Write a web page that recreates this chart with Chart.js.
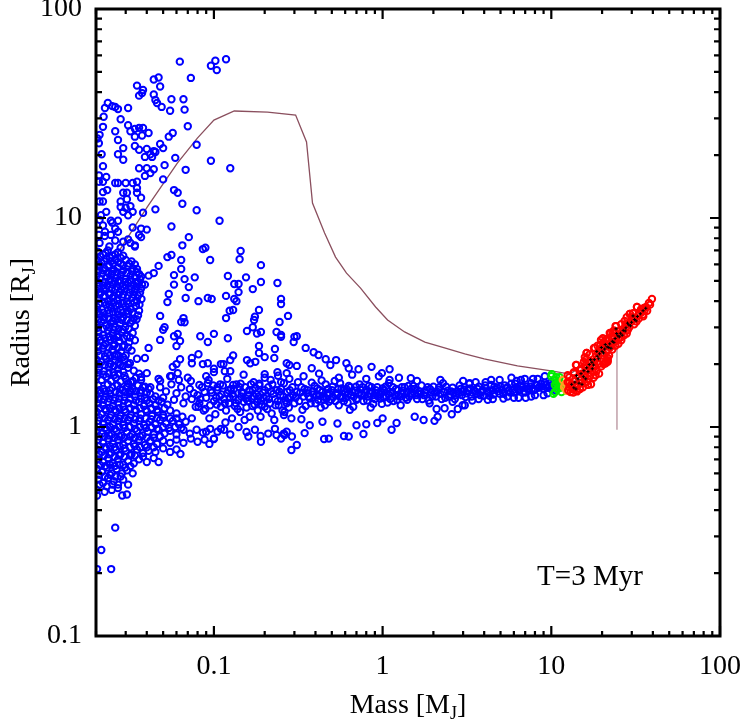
<!DOCTYPE html>
<html lang="en">
<head>
<meta charset="UTF-8">
<title>Radius vs Mass, T=3 Myr</title>
<script src="https://cdn.jsdelivr.net/npm/chart.js"></script>
<style>
  html, body { margin: 0; padding: 0; background: #fff; }
  canvas { display: block; }
</style>
</head>
<body>
<canvas id="mrChart" width="747" height="726"></canvas>
<script>
// axis ticks (log-log)
const xTicks = [0.02,0.03,0.04,0.05,0.06,0.07,0.08,0.09,
  0.1,0.2,0.3,0.4,0.5,0.6,0.7,0.8,0.9,
  1,2,3,4,5,6,7,8,9,
  10,20,30,40,50,60,70,80,90,100];
const xLabels = [0.1, 1, 10, 100];
const yTicks = [0.1,0.2,0.3,0.4,0.5,0.6,0.7,0.8,0.9,
  1,2,3,4,5,6,7,8,9,
  10,20,30,40,50,60,70,80,90,100];
const yLabels = [0.1, 1, 10, 100];

// [mass (MJ), radius (RJ)]
const blueUpper = [[0.0628,56],[0.096,53.5],[0.102,56.5],[0.104,51],[0.118,57.5],[0.073,46.8],[0.035,43],[0.038,41],[0.036,38.5],[0.0375,39.6],
  [0.044,46],[0.047,47],[0.048,42.6],[0.044,39],[0.045,36.7],[0.046,35.5],[0.049,34],[0.056,37],[0.066,37],[0.055,32.6],
  [0.067,33],[0.07,27.5],[0.079,22.4],[0.057,25.5],[0.054,24.5],[0.05,21.6],[0.048,22.6],[0.096,18.8],[0.125,17.3],[0.059,19.4],
  [0.068,17],[0.05,15.3],[0.051,17.9],[0.044,20.9],[0.042,20.2],[0.04,21.4],[0.0375,24.8],[0.041,25.5],[0.038,27],[0.036,27],
  [0.034,26.7],[0.031,27.8],[0.032,26],[0.034,24.5],[0.034,22.1],[0.036,21.2],[0.039,19.6],[0.036,17.3],[0.04,17.3],[0.042,16.4],
  [0.044,17.1],[0.039,15.9],[0.043,19.6],[0.045,20.7],[0.029,19],[0.027,20.2],[0.029,21.6],[0.027,23.6],[0.026,26],[0.028,29.7],
  [0.027,33.2],[0.031,33.6],[0.026,34],[0.025,34.3],[0.0235,35.5],[0.0226,33.6],[0.0222,30.5],[0.022,27.3],[0.021,25],[0.0204,24],
  [0.0208,22.8],[0.0216,20.2],[0.022,17.7],[0.0208,16],[0.0208,14.9],[0.022,14.9],[0.023,15.7],[0.022,13.3],[0.021,12],[0.022,12],
  [0.0233,13.6],[0.026,14.7],[0.027,14.7],[0.03,14.7],[0.033,14.7],[0.035,14.9],[0.035,13.9],[0.037,12.5],[0.035,13.2],[0.0305,13.2],
  [0.029,13.2],[0.0305,12.3],[0.028,12],[0.028,11.3],[0.03,11.2],[0.032,11.4],[0.033,10.7],[0.029,10.7],[0.031,10.3],[0.038,10.6],
  [0.045,11],[0.058,13.6],[0.061,13.2],[0.065,11.7],[0.079,10.9],[0.108,9.7],[0.056,9.1],[0.021,9.8],[0.0214,10.3],[0.023,10.7],
  [0.0245,9.7],[0.027,9.7],[0.0226,8.6],[0.0208,8.3],[0.026,8.9],[0.037,8.9],[0.04,8.8],[0.037,8.1],[0.0245,8.3],[0.029,7.7],
  [0.032,7.6],[0.034,7.3],[0.071,8.1],[0.065,7.4],[0.089,7.2],[0.021,7.6],[0.0225,8.2],[0.024,7.3],[0.026,7.8],[0.028,7.2],
  [0.031,7.9],[0.034,7.4],[0.036,8.3],[0.022,9.2],[0.025,9.5],[0.027,8.6],[0.033,9.0]];

const blueMid = [[0.086,7.1],[0.095,6.3],[0.144,6.95],[0.142,6.35],[0.19,5.95],[0.064,6.3],[0.056,6.65],[0.053,6.5],[0.047,5.9],[0.044,5.45],
  [0.041,5.3],[0.039,4.8],[0.058,5.33],[0.064,5.7],[0.067,5.1],[0.077,5.2],[0.058,4.8],[0.071,4.67],[0.054,4.33],[0.068,4.14],
  [0.053,3.96],[0.081,4.0],[0.092,4.14],[0.097,4.1],[0.121,5.28],[0.132,4.83],[0.14,4.83],[0.14,4.42],[0.132,4.1],[0.136,4.0],
  [0.155,5.2],[0.17,4.57],[0.19,4.94],[0.238,4.89],[0.118,4.24],[0.13,3.63],[0.124,3.6],[0.118,3.32],[0.185,3.63],[0.175,3.37],
  [0.173,3.25],[0.25,4.1],[0.25,3.88],[0.275,3.4],[0.245,3.18],[0.17,3.0],[0.157,2.88],[0.18,2.8],[0.19,2.85],[0.235,2.85],
  [0.25,2.76],[0.23,2.36],[0.185,2.44],[0.185,2.26],[0.2,2.16],[0.27,2.02],[0.228,2.14],[0.238,1.83],[0.2,1.79],[0.27,1.81],
  [0.121,2.66],[0.1,2.79],[0.092,2.55],[0.083,2.72],[0.066,3.32],[0.064,3.18],[0.067,3.17],[0.058,2.72],[0.061,2.79],[0.063,2.58],
  [0.06,2.44],[0.048,2.61],[0.051,3.0],[0.05,2.92],[0.048,3.4],[0.041,2.39],[0.039,2.14],[0.081,2.23],[0.074,2.14],[0.074,2.02],
  [0.086,2.0],[0.092,2.02],[0.1,1.9],[0.1,1.83],[0.11,2.0],[0.114,2.0],[0.125,2.09],[0.13,2.2],[0.125,1.85],[0.116,1.85],
  [0.157,2.09],[0.164,2.02],[0.176,2.05],[0.063,2.11],[0.06,2.0],[0.057,1.94],[0.061,1.81],[0.056,1.75],[0.04,1.81],[0.037,1.73],
  [0.048,1.66],[0.042,1.55],[0.039,1.56],[0.033,1.66],[0.031,1.62],[0.0305,1.55],[0.032,1.47],[0.073,1.66],[0.082,1.59],[0.093,1.68],
  [0.105,1.55],[0.13,1.59],[0.144,1.61],[0.172,1.64],[0.186,1.61],[0.217,1.68],[0.25,1.64],
  [0.25,2.7],[0.3,2.7],[0.31,2.72],[0.297,2.55],[0.35,2.39],[0.39,2.28],[0.417,2.21],[0.46,2.11],[0.53,2.09],[0.61,2.02],
  [0.72,1.89],[0.86,1.94],[1.1,1.89],[1.47,1.71],[0.28,1.98],[0.31,1.96],[0.38,1.91],[0.49,1.98],[0.63,1.91],[0.99,1.81]];

const blueStrip = [[0.0205,6.9],[0.022,6.7],[0.0235,7.0],[0.025,6.6],[0.027,6.85],[0.029,6.6],
  [0.0203,6.3],[0.0215,6.1],[0.023,6.4],[0.0245,6.2],[0.026,6.35],[0.028,6.05],[0.030,6.3],[0.0325,6.2],
  [0.021,5.85],[0.0225,5.7],[0.024,5.9],[0.0255,5.65],[0.027,5.8],[0.029,5.6],[0.031,5.9],[0.033,5.75],[0.035,5.7],
  [0.0202,5.3],[0.0218,5.45],[0.0232,5.2],[0.0248,5.4],[0.0262,5.15],[0.028,5.35],[0.030,5.1],[0.032,5.3],[0.034,5.2],[0.036,5.4],
  [0.0208,4.9],[0.022,4.75],[0.0238,5.0],[0.0252,4.8],[0.027,4.95],[0.0288,4.7],[0.031,4.9],[0.0335,4.75],[0.0355,4.95],[0.0375,4.8],
  [0.0201,4.5],[0.0214,4.4],[0.0228,4.6],[0.0243,4.35],[0.026,4.55],[0.0275,4.4],[0.0295,4.6],[0.0318,4.4],[0.034,4.55],[0.0365,4.4],
  [0.0206,4.1],[0.0222,4.2],[0.0236,4.0],[0.025,4.15],[0.0268,4.05],[0.0285,4.2],[0.0305,3.98],[0.0328,4.15],[0.035,4.0],[0.0372,4.1],
  [0.0203,3.75],[0.0217,3.65],[0.023,3.85],[0.0246,3.7],[0.0262,3.8],[0.028,3.62],[0.030,3.78],[0.032,3.66],[0.0345,3.8],[0.036,3.6],
  [0.021,3.45],[0.0224,3.35],[0.024,3.5],[0.0256,3.3],[0.0272,3.45],[0.029,3.35],[0.031,3.5],[0.0335,3.3],[0.0355,3.42],
  [0.0202,3.1],[0.0215,3.2],[0.023,3.05],[0.0245,3.15],[0.026,3.0],[0.0278,3.12],[0.0298,3.0],[0.032,3.15],[0.034,3.05],
  [0.0207,2.85],[0.022,2.75],[0.0235,2.9],[0.025,2.8],[0.0266,2.7],[0.0285,2.85],[0.0305,2.72],[0.033,2.82],
  [0.0201,2.55],[0.0213,2.6],[0.0228,2.5],[0.0242,2.62],[0.0258,2.48],[0.0275,2.58],[0.0295,2.45],[0.0315,2.55],[0.034,2.6],
  [0.0205,2.3],[0.022,2.38],[0.0234,2.25],[0.025,2.35],[0.0265,2.22],[0.0282,2.3],[0.030,2.2],[0.0325,2.32],
  [0.0202,2.1],[0.0216,2.05],[0.023,2.12],[0.0244,2.0],[0.026,2.08],[0.0278,1.98],[0.0296,2.1],[0.0318,2.02],[0.035,2.12],
  [0.0208,1.9],[0.0222,1.85],[0.0238,1.95],[0.0254,1.82],[0.027,1.9],[0.029,1.84],[0.031,1.92],[0.0335,1.86],[0.036,1.8],
  [0.0203,1.75],[0.0216,1.68],[0.023,1.74],[0.0246,1.66],[0.0262,1.72],[0.028,1.65],[0.030,1.7],[0.0322,1.64],[0.0345,1.72],[0.037,1.68],
  [0.0206,1.58],[0.022,1.52],[0.0235,1.6],[0.025,1.54],[0.0268,1.58],[0.0287,1.5],[0.0308,1.56],[0.033,1.52],[0.0355,1.58],[0.038,1.55],[0.041,1.52],
  [0.0201,1.42],[0.0214,1.46],[0.0228,1.4],[0.0243,1.44],[0.026,1.38],[0.0276,1.45],[0.0295,1.39],[0.0316,1.44],[0.034,1.4],[0.0365,1.46],[0.039,1.38],[0.042,1.44],[0.045,1.4],
  [0.0205,1.3],[0.022,1.27],[0.0235,1.32],[0.0252,1.26],[0.027,1.31],[0.029,1.25],[0.031,1.3],[0.0335,1.27],[0.036,1.32],[0.0385,1.26],[0.0415,1.3],[0.045,1.27],[0.049,1.32],[0.053,1.28],
  [0.0202,1.18],[0.0216,1.15],[0.023,1.2],[0.0246,1.14],[0.0263,1.19],[0.028,1.13],[0.030,1.18],[0.0322,1.14],[0.0345,1.2],[0.037,1.15],[0.040,1.19],[0.043,1.13],[0.0465,1.18],[0.050,1.14],[0.055,1.2],[0.06,1.16],
  [0.0207,1.07],[0.022,1.04],[0.0236,1.08],[0.0252,1.03],[0.027,1.07],[0.029,1.02],[0.031,1.08],[0.0335,1.04],[0.036,1.07],[0.0385,1.02],[0.0415,1.06],[0.045,1.03],[0.048,1.08],[0.052,1.04],[0.057,1.07],[0.062,1.03],[0.068,1.06],[0.074,1.1],
  [0.0203,0.96],[0.0217,0.93],[0.0232,0.97],[0.0248,0.92],[0.0265,0.96],[0.0284,0.91],[0.0305,0.95],[0.0328,0.92],[0.035,0.96],[0.0378,0.91],[0.0405,0.95],[0.044,0.92],[0.047,0.97],[0.051,0.93],[0.055,0.96],[0.06,0.92],[0.066,0.97],
  [0.072,0.93],[0.079,0.97],[0.086,0.94],[0.095,0.98],[0.105,0.95],[0.115,0.97],
  [0.0206,0.87],[0.022,0.84],[0.0236,0.88],[0.0252,0.83],[0.027,0.87],[0.029,0.82],[0.031,0.86],[0.0335,0.83],[0.036,0.87],[0.039,0.82],[0.042,0.86],[0.046,0.83],[0.05,0.86],[0.055,0.84],
  [0.06,0.87],[0.066,0.84],[0.073,0.88],[0.08,0.85],[0.088,0.87],
  [0.0202,0.78],[0.0216,0.76],[0.023,0.79],[0.0246,0.75],[0.0263,0.78],[0.028,0.74],[0.030,0.77],[0.0325,0.74],[0.035,0.78],[0.038,0.75],[0.041,0.77],[0.045,0.76],
  [0.05,0.79],[0.055,0.76],[0.06,0.78],
  [0.0207,0.7],[0.022,0.68],[0.0236,0.71],[0.0252,0.67],[0.027,0.7],[0.029,0.66],[0.031,0.69],[0.0335,0.67],[0.036,0.7],[0.04,0.68],[0.044,0.71],[0.047,0.68],
  [0.0203,0.63],[0.0217,0.61],[0.0232,0.64],[0.0248,0.6],[0.0265,0.63],[0.0285,0.6],[0.0305,0.62],[0.033,0.6],
  [0.0206,0.56],[0.022,0.54],[0.0236,0.57],[0.0255,0.55],[0.027,0.53],[0.029,0.56],[0.031,0.53],
  [0.0202,0.5],[0.0225,0.49],[0.0248,0.5],[0.027,0.51],
  [0.0286,0.47],[0.0305,0.475],[0.0203,0.47],[0.026,0.33],[0.0215,0.258],[0.0203,0.209],[0.0246,0.209],
  [0.048,1.55],[0.052,1.48],[0.056,1.6],[0.06,1.45],[0.064,1.55],[0.068,1.4],[0.072,1.52],[0.076,1.45],[0.05,1.38],[0.058,1.35],
  [0.066,1.3],[0.074,1.36],[0.078,1.25],[0.047,1.7],[0.055,1.75],[0.062,1.68],[0.07,1.72]];

// second, offset pass through the saturated low-mass cloud
const blueStrip2 = [[0.0212,6.55],[0.0228,6.8],[0.0242,6.45],[0.026,6.7],[0.028,6.45],
  [0.0209,6.0],[0.0224,6.2],[0.0238,5.95],[0.0252,6.05],[0.027,6.15],[0.029,5.95],[0.0315,6.05],[0.034,6.0],
  [0.0206,5.55],[0.0221,5.6],[0.0236,5.45],[0.025,5.55],[0.0266,5.5],[0.0285,5.5],[0.0305,5.45],[0.0328,5.55],[0.035,5.5],[0.037,5.25],
  [0.0211,5.1],[0.0226,4.95],[0.0244,5.1],[0.0258,4.98],[0.0275,5.05],[0.0298,4.95],[0.032,5.05],[0.0345,4.95],[0.0365,5.1],
  [0.0205,4.7],[0.0222,4.6],[0.0234,4.75],[0.0248,4.6],[0.0265,4.7],[0.0282,4.55],[0.030,4.75],[0.0325,4.6],[0.0348,4.7],[0.037,4.6],
  [0.021,4.3],[0.0225,4.25],[0.024,4.3],[0.0256,4.25],[0.0272,4.3],[0.029,4.3],[0.031,4.25],[0.0335,4.3],[0.0355,4.25],
  [0.0208,3.9],[0.0226,3.95],[0.024,3.85],[0.0256,3.95],[0.0272,3.88],[0.029,3.9],[0.031,3.88],[0.0338,3.95],[0.0362,3.85],
  [0.0206,3.58],[0.0222,3.52],[0.0236,3.62],[0.0252,3.55],[0.0268,3.58],[0.0288,3.52],[0.0308,3.6],[0.0328,3.52],
  [0.0208,3.28],[0.0222,3.25],[0.0238,3.3],[0.0252,3.22],[0.0268,3.28],[0.0285,3.25],[0.0305,3.25],[0.0328,3.22],[0.0348,3.28],
  [0.0205,2.98],[0.0222,2.95],[0.024,3.0],[0.0255,2.92],[0.0272,2.95],[0.029,2.92],[0.0312,2.95],
  [0.0209,2.7],[0.0226,2.65],[0.024,2.7],[0.0256,2.65],[0.0272,2.7],[0.0292,2.65],[0.0318,2.68],
  [0.0207,2.42],[0.0222,2.45],[0.0238,2.4],[0.0254,2.44],[0.027,2.4],[0.0288,2.42],[0.031,2.4],
  [0.021,2.2],[0.0226,2.18],[0.0242,2.2],[0.0258,2.18],[0.0272,2.2],[0.029,2.16],
  [0.0208,2.0],[0.0226,1.98],[0.024,2.02],[0.0256,1.96],[0.0272,2.02],[0.0288,1.96],[0.031,2.0],
  [0.0206,1.82],[0.0222,1.78],[0.0238,1.8],[0.0256,1.77],[0.0272,1.8],[0.0295,1.76],
  [0.021,1.5],[0.0226,1.48],[0.0242,1.5],[0.026,1.47],[0.0278,1.52],[0.0298,1.47],[0.032,1.5],[0.0345,1.48],[0.037,1.5],[0.040,1.46],
  [0.0208,1.36],[0.0223,1.35],[0.024,1.37],[0.0256,1.34],[0.0275,1.37],[0.0295,1.34],[0.0318,1.37],[0.0345,1.34],[0.037,1.37],[0.040,1.34],[0.0435,1.36],[0.047,1.34],
  [0.021,1.23],[0.0226,1.22],[0.0242,1.23],[0.0258,1.21],[0.0275,1.23],[0.0295,1.21],[0.0318,1.23],[0.034,1.21],[0.0365,1.23],[0.0395,1.21],[0.0425,1.23],[0.046,1.21],[0.051,1.23],
  [0.0209,1.11],[0.0225,1.1],[0.0242,1.11],[0.0258,1.09],[0.0275,1.1],[0.0295,1.1],[0.0318,1.11],[0.034,1.09],[0.0365,1.1],[0.0395,1.1],[0.0425,1.09],[0.046,1.1],[0.05,1.11],[0.055,1.1],[0.06,1.1],[0.065,1.12],
  [0.021,1.0],[0.0226,0.99],[0.0242,1.0],[0.0258,0.98],[0.0275,1.0],[0.0295,0.99],[0.0318,1.0],[0.034,0.98],[0.0365,1.0],[0.0395,0.99],[0.0425,1.0],[0.046,0.98],[0.05,1.0],[0.054,0.99],[0.059,1.0],[0.064,0.99],
  [0.0209,0.9],[0.0225,0.9],[0.024,0.91],[0.0258,0.89],[0.0276,0.9],[0.0295,0.89],[0.0318,0.9],[0.034,0.89],[0.0365,0.9],[0.040,0.89],[0.044,0.89],[0.048,0.9],
  [0.021,0.81],[0.0226,0.8],[0.0242,0.81],[0.0258,0.8],[0.0276,0.81],[0.0295,0.79],[0.0318,0.8],[0.034,0.81],[0.0365,0.8],[0.040,0.8],[0.044,0.8],
  [0.0209,0.74],[0.0224,0.73],[0.024,0.74],[0.0258,0.72],[0.0275,0.73],[0.0295,0.72],[0.0318,0.73],[0.034,0.73],[0.038,0.72],
  [0.021,0.66],[0.0226,0.65],[0.0242,0.66],[0.0258,0.65],[0.0276,0.66],[0.0298,0.64],[0.032,0.65],
  [0.0209,0.59],[0.0226,0.58],[0.0242,0.59],[0.026,0.58],[0.028,0.58],
  [0.021,0.53],[0.0232,0.52],[0.025,0.53]];

const blueBand = [[0.08,1.42],[0.082,1.3],[0.085,1.55],[0.087,1.2],[0.09,1.38],[0.092,1.62],[0.095,1.27],[0.097,1.46],[0.1,1.33],[0.102,1.15],
  [0.105,1.5],[0.108,1.4],[0.11,1.25],[0.113,1.58],[0.115,1.36],[0.118,1.2],[0.12,1.45],[0.123,1.3],[0.126,1.52],[0.128,1.1],
  [0.13,1.4],[0.133,1.26],[0.136,1.6],[0.14,1.35],[0.143,1.18],[0.146,1.47],[0.15,1.32],[0.153,1.55],[0.156,1.24],[0.16,1.42],
  [0.163,1.12],[0.167,1.37],[0.17,1.5],[0.174,1.28],[0.178,1.44],[0.182,1.2],[0.186,1.58],[0.19,1.34],[0.195,1.46],[0.2,1.25],
  [0.205,1.4],[0.21,1.55],[0.215,1.3],[0.22,1.16],[0.225,1.44],[0.23,1.36],[0.236,1.5],[0.242,1.27],[0.248,1.42],[0.255,1.2],
  [0.26,1.62],[0.266,1.34],[0.272,1.47],[0.278,1.24],[0.285,1.39],[0.292,1.55],[0.3,1.3],
  [0.081,1.25],[0.088,1.47],[0.094,1.1],[0.099,1.58],[0.104,1.28],[0.111,1.43],[0.117,1.05],[0.124,1.38],[0.131,1.52],[0.138,1.22],
  [0.145,1.4],[0.152,1.08],[0.159,1.33],[0.166,1.6],[0.173,1.4],[0.181,1.32],[0.189,1.12],[0.197,1.38],[0.207,1.22],[0.218,1.48],
  [0.228,1.08],[0.239,1.33],[0.25,1.52],[0.262,1.18],[0.275,1.37],[0.288,1.1],
  [0.083,1.36],[0.089,1.22],[0.096,1.5],[0.103,1.38],[0.109,1.6],[0.116,1.3],[0.122,1.5],[0.129,1.44],[0.135,1.3],[0.142,1.55],
  [0.149,1.45],[0.155,1.37],[0.162,1.5],[0.169,1.26],[0.176,1.54],[0.184,1.4],[0.192,1.28],[0.2,1.5],[0.212,1.36],[0.222,1.6],
  [0.232,1.27],[0.244,1.48],[0.258,1.4],[0.27,1.3],[0.282,1.5],[0.295,1.42],
  [0.09,1.75],[0.12,1.7],[0.15,1.78],[0.2,1.72],[0.24,1.76],[0.28,1.7],
  [0.09,0.95],[0.1,0.88],[0.11,0.98],[0.125,0.92],[0.14,1.0],[0.16,0.9],[0.175,0.97],[0.19,0.85],[0.21,0.93],[0.23,0.98],
  [0.25,0.88],[0.27,0.95],[0.29,0.9],[0.0633,0.743],[0.094,0.83],[0.1,0.876],[0.288,0.776],[0.156,0.946],[0.189,0.905],[0.235,0.916],
  [0.262,0.916],[0.31,0.82],[0.26,0.93],[0.345,0.935],[0.45,0.876],[0.48,0.88],[0.59,0.905],[0.63,0.9],[0.77,0.926],[1.13,0.97],
  [1.21,1.045],[1.55,1.12],[1.75,1.08],[2.03,1.07],[2.09,1.22],[2.57,1.15],[2.79,1.22],[2.98,1.27],[0.93,1.045],[1.0,1.1],
  [0.8,1.03],[0.7,1.02],[0.54,1.04],[0.44,1.06],[0.37,1.02],[0.26,1.14],[0.33,1.09],
  [0.31,1.47],[0.32,1.33],[0.33,1.55],[0.34,1.4],[0.35,1.26],[0.36,1.5],[0.37,1.37],[0.38,1.63],[0.39,1.43],[0.4,1.3],
  [0.41,1.53],[0.42,1.41],[0.43,1.24],[0.44,1.47],[0.45,1.35],[0.46,1.6],[0.47,1.45],[0.48,1.32],[0.5,1.5],[0.51,1.39],
  [0.52,1.66],[0.54,1.43],[0.55,1.27],[0.57,1.53],[0.58,1.38],[0.6,1.46],[0.62,1.31],[0.63,1.57],[0.65,1.42],[0.67,1.25],
  [0.69,1.49],[0.71,1.37],[0.73,1.6],[0.75,1.44],[0.77,1.33],[0.8,1.51],[0.82,1.4],[0.85,1.24],[0.87,1.48],[0.9,1.36],
  [0.93,1.55],[0.96,1.43],[0.99,1.29],[1.02,1.5],[1.05,1.39],[1.09,1.62],[1.12,1.45],[1.16,1.33],[1.2,1.52],[1.24,1.41],
  [1.28,1.27],[1.32,1.49],[1.37,1.38],[1.42,1.57],[1.47,1.45],
  [0.315,1.64],[0.335,1.21],[0.355,1.45],[0.375,1.3],[0.395,1.57],[0.415,1.35],[0.435,1.67],[0.455,1.27],[0.475,1.52],[0.495,1.35],
  [0.53,1.45],[0.56,1.62],[0.59,1.33],[0.61,1.52],[0.64,1.21],[0.66,1.47],[0.7,1.35],[0.74,1.51],[0.78,1.41],[0.83,1.57],
  [0.88,1.29],[0.92,1.45],[0.97,1.37],[1.0,1.53],[1.07,1.31],[1.14,1.47],[1.22,1.35],[1.3,1.55],[1.4,1.35],
  [0.305,1.38],[0.325,1.46],[0.345,1.52],[0.365,1.4],[0.385,1.48],[0.405,1.42],[0.425,1.5],[0.445,1.4],[0.465,1.37],[0.485,1.44],
  [0.505,1.56],[0.525,1.33],[0.545,1.52],[0.565,1.4],[0.585,1.5],[0.605,1.38],[0.625,1.44],[0.645,1.55],[0.675,1.4],[0.695,1.56],
  [0.72,1.45],[0.76,1.55],[0.79,1.46],[0.81,1.34],[0.84,1.45],[0.86,1.55],[0.89,1.42],[0.91,1.5],[0.94,1.4],[0.98,1.46],
  [1.01,1.4],[1.04,1.56],[1.08,1.44],[1.11,1.36],[1.15,1.55],[1.19,1.42],[1.23,1.5],[1.27,1.4],[1.31,1.44],[1.35,1.55],
  [1.39,1.46],[1.44,1.4],[1.48,1.52],
  [0.34,1.75],[0.42,1.8],[0.55,1.72],[0.66,1.78],[0.8,1.7],[1.25,1.72],[0.95,1.75],[1.1,1.68],
  [1.5,1.44],[1.55,1.52],[1.6,1.36],[1.65,1.48],[1.7,1.58],[1.76,1.42],[1.82,1.5],[1.88,1.34],[1.94,1.46],[2.0,1.56],
  [2.07,1.4],[2.14,1.51],[2.2,1.44],[2.28,1.62],[2.35,1.38],[2.43,1.49],[2.5,1.43],[2.6,1.54],[2.68,1.36],[2.77,1.48],
  [2.86,1.58],[2.95,1.42],[3.05,1.51],[3.15,1.45],[3.26,1.61],[3.37,1.4],[3.48,1.5],[3.6,1.44],[3.72,1.56],[3.85,1.47],
  [3.98,1.41],[4.1,1.53],[4.25,1.46],[4.4,1.59],[4.55,1.43],[4.7,1.51],[4.86,1.48],[5.0,1.56],[5.2,1.44],[5.4,1.53],
  [5.6,1.49],[5.8,1.61],[6.0,1.46],[6.2,1.55],[6.4,1.5],[6.65,1.58],[6.9,1.48],[7.1,1.56],[7.35,1.52],[7.6,1.62],
  [7.85,1.5],[8.1,1.58],[8.4,1.54],[8.7,1.61],[9.0,1.52],[9.3,1.59],[9.6,1.56],[9.9,1.63],[10.2,1.54],[10.5,1.6],
  [1.52,1.57],[1.62,1.45],[1.72,1.36],[1.85,1.55],[1.97,1.4],[2.1,1.48],[2.24,1.36],[2.38,1.56],[2.55,1.48],[2.72,1.42],
  [2.9,1.52],[3.1,1.39],[3.3,1.53],[3.55,1.48],[3.8,1.42],[4.05,1.58],[4.3,1.41],[4.6,1.56],[4.95,1.44],[5.3,1.58],
  [5.7,1.46],[6.1,1.61],[6.55,1.51],[7.0,1.46],[7.5,1.56],[8.0,1.51],[8.55,1.56],[9.15,1.63],[9.75,1.58],[10.8,1.56],
  [1.58,1.42],[1.68,1.44],[1.79,1.46],[1.91,1.52],[2.04,1.46],[2.17,1.55],[2.31,1.47],[2.47,1.4],[2.64,1.46],[2.82,1.45],
  [3.0,1.48],[3.2,1.5],[3.42,1.46],[3.66,1.52],[3.92,1.5],[4.18,1.48],[4.48,1.5],[4.78,1.54],[5.1,1.5],[5.5,1.55],
  [5.9,1.5],[6.3,1.53],[6.75,1.55],[7.2,1.52],[7.7,1.53],[8.25,1.59],[8.85,1.56],[9.45,1.54],[10.0,1.52],[10.6,1.5],
  [9.15,1.75],[6.96,1.7],[6.24,1.66],[4.94,1.68],[4.08,1.64],[3.56,1.64],[3.28,1.62],[5.8,1.72],[8.3,1.7],[10.4,1.68],
  [1.6,1.66],[2.2,1.68],[3.0,1.66],[4.4,1.68],[6.6,1.68],[7.8,1.7],
  [1.9,1.3],[2.6,1.32],[3.4,1.34],[4.2,1.35],[5.2,1.37],[6.0,1.38],[7.6,1.4],[9.0,1.42],
  [3.07,1.27],[2.33,1.23],[2.12,1.12],[3.71,1.36],[6.4,1.38],[7.05,1.38],[9.5,1.45],[4.5,1.36],[5.5,1.4],[8.0,1.42]];

const greenPts = [[10.07,1.79],[10.6,1.68],[10.5,1.59],[10.9,1.52],[10.5,1.47],[11.2,1.73],[11.4,1.62],[11.5,1.47],[10.3,1.44],[11.1,1.57],
  [10.0,1.75],[10.7,1.73],[11.0,1.66],[10.8,1.6],[11.3,1.54]];
const orangePts = [[11.9,1.55],[12.2,1.62],[12.3,1.49],[11.7,1.68],[12.0,1.58]];
const redPts = [[12.5,1.64],[12.8,1.73],[13.6,1.81],[14.0,1.98],[14.8,1.87],[12.8,1.55],[13.4,1.52],[14.3,1.57],[14.9,1.68],[15.8,1.77],
  [16.0,1.98],[15.8,2.16],[16.9,2.23],[17.9,2.39],[18.9,2.26],[19.6,2.47],[20.2,2.66],[21.0,2.61],[21.6,2.05],[20.8,2.02],
  [22.5,2.82],[23.7,2.7],[15.8,1.62],[13.8,1.59],[39.5,4.1],[37.9,3.92],[35.4,3.71],[32.2,3.75],[29.2,3.47],[27.2,3.22],
  [24.1,3.04],[23.2,2.82],[21.3,2.64],[18.1,2.39],[16.2,2.26],[16.9,2.05],[21.0,2.02],[21.6,2.09],[14.1,1.98],[13.6,1.83],
  [12.5,1.77],[12.8,1.64],[13.4,1.55],[14.1,1.5],[14.9,1.62],[15.8,1.73],[16.5,1.87],[17.6,1.98],[18.9,2.14],[20.2,2.28],
  [22.5,2.52],[24.8,2.75],[26.5,2.94],[29.6,3.18],[32.7,3.43],[35.8,3.63],
  [12.6,1.5],[13.0,1.47],[13.5,1.46],[14.2,1.48],[14.8,1.52],[15.4,1.55],[13.2,1.6],[13.9,1.66],[14.5,1.72],[15.2,1.8],
  [16.3,1.65],[17.0,1.75],[17.5,1.85],[18.2,1.95],[19.0,2.0],[19.8,2.12],[20.5,2.2],[21.5,2.32],[22.3,2.4],[23.0,2.5],
  [24.0,2.58],[25.0,2.65],[25.8,2.8],[26.8,2.88],[27.8,3.0],[28.8,3.1],[30.0,3.25],[31.2,3.3],[32.0,3.2],[33.5,3.5],
  [34.5,3.55],[36.5,3.75],[38.5,3.85],[16.0,1.9],[17.2,2.05],[18.5,2.2],[19.5,2.35],[21.0,2.45],[22.0,2.6],[23.5,2.9],
  [26.0,3.1],[28.0,3.35],[30.5,3.5],
  [15.6,2.05],[16.2,2.26],[19.7,2.61],[22.2,2.82],[24.1,3.04],[29.2,3.47],[32.2,3.75],[16.5,1.59],[18.3,1.77],[21.0,2.05],
  [21.6,2.14],[25.9,2.69],[28.4,2.91],[35.1,3.39],[16.5,1.7],[17.2,1.6],[17.8,1.72],[18.5,1.85],[19.2,1.8],[19.8,1.95],
  [20.4,2.0],[17.0,1.9],[18.0,2.05],[19.0,2.3],[20.0,2.4],[22.0,2.2],[23.0,2.35],[24.0,2.45],[25.0,2.5],[26.0,2.6],
  [27.0,2.75],[28.0,2.8],[29.0,3.0],[31.0,3.1],[33.0,3.3],[35.0,3.45],[37.0,3.6],[15.0,1.9],[16.0,2.1],[18.8,2.45],
  [20.5,2.55],[22.8,2.7],[25.5,2.9],[27.5,3.1],[30.0,3.35],[34.0,3.65]];
const blackPts = [[13.2,1.6],[13.8,1.64],[14.4,1.7],[15.0,1.8],[15.6,1.86],[16.2,1.92],[16.8,1.99],[17.4,2.04],[18.0,2.1],[18.7,2.18],
  [19.3,2.24],[20.0,2.3],[20.7,2.36],[21.4,2.42],[22.2,2.5],[23.0,2.57],[23.9,2.65],[24.8,2.73],[25.7,2.81],[26.7,2.9],
  [27.7,2.98],[28.8,3.08],[29.9,3.17],[31.1,3.27],[32.4,3.38],[33.7,3.48],[35.0,3.6],[36.3,3.7],
  [13.6,1.54],[14.6,1.62],[15.5,1.74],[16.5,1.84],[17.8,1.98],[19.1,2.12],[20.4,2.26],[21.9,2.4],[23.5,2.54],[25.3,2.7],
  [27.4,2.88],[29.5,3.05],[31.8,3.22],[14.1,1.76],[17.1,2.1],[20.9,2.48],[24.4,2.8],[28.3,3.14],
  [14.0,1.52],[15.2,1.6],[16.0,1.7],[17.5,1.9],[18.6,2.3],[19.8,2.4],[22.6,2.38],[24.2,2.95],[26.3,2.75],[30.5,3.4]];

// evolutionary track and the vertical mark at ~24.5 MJ
const trackPts = [[0.025,6.2],[0.0403,11.3],[0.0607,18.3],[0.0798,24.1],[0.1,29.4],[0.132,32.5],[0.208,32.1],[0.305,31.1],[0.354,23.1],[0.384,11.8],
  [0.453,8.47],[0.526,6.5],[0.611,5.45],[0.74,4.62],[0.909,3.75],[1.07,3.25],[1.35,2.85],[1.78,2.55],[2.33,2.39],[3.07,2.24],
  [4.0,2.12],[6.3,1.96],[10.2,1.85],[12.9,1.79],[24.5,2.55]];
const limitPts = [[24.5,2.55],[24.5,0.97]];

const bluePts = blueUpper.concat(blueMid, blueStrip, blueStrip2, blueBand);
const toXY = arr => arr.map(p => ({ x: p[0], y: p[1] }));

const FONT = "'Liberation Serif', 'Times New Roman', serif";

function drawSubText(ctx, parts, size) {
    // parts: [main, sub, tail], centred on 0,0 (baseline)
    const subSize = Math.round(size * 0.65);
    ctx.font = size + 'px ' + FONT;
    const w1 = ctx.measureText(parts[0]).width;
    const w3 = ctx.measureText(parts[2]).width;
    ctx.font = subSize + 'px ' + FONT;
    const w2 = ctx.measureText(parts[1]).width;
    const x0 = -(w1 + w2 + w3) / 2;
    ctx.textAlign = 'left';
    ctx.textBaseline = 'alphabetic';
    ctx.font = size + 'px ' + FONT;
    ctx.fillText(parts[0], x0, 0);
    ctx.font = subSize + 'px ' + FONT;
    ctx.fillText(parts[1], x0 + w1, size * 0.22);
    ctx.font = size + 'px ' + FONT;
    ctx.fillText(parts[2], x0 + w1 + w2, 0);
}

const framePlugin = {
    id: 'frame',
    afterDraw(chart) {
        const { ctx, chartArea: a, scales: { x, y } } = chart;
        ctx.save();
        ctx.strokeStyle = '#000';
        ctx.lineWidth = 2.2;
        ctx.beginPath();
        xTicks.forEach(v => {
            const px = x.getPixelForValue(v);
            const len = xLabels.includes(v) ? 10 : 5;
            ctx.moveTo(px, a.bottom); ctx.lineTo(px, a.bottom - len);
            ctx.moveTo(px, a.top); ctx.lineTo(px, a.top + len);
        });
        yTicks.forEach(v => {
            const py = y.getPixelForValue(v);
            const len = yLabels.includes(v) ? 10 : 6;
            ctx.moveTo(a.left, py); ctx.lineTo(a.left + len, py);
            ctx.moveTo(a.right, py); ctx.lineTo(a.right - len, py);
        });
        ctx.stroke();
        ctx.lineWidth = 3;
        ctx.strokeRect(a.left, a.top, a.right - a.left, a.bottom - a.top);

        ctx.fillStyle = '#000';
        // x title
        ctx.save();
        ctx.translate((a.left + a.right) / 2, 713);
        drawSubText(ctx, ['Mass [M', 'J', ']'], 28);
        ctx.restore();
        // y title
        ctx.save();
        ctx.translate(29, (a.top + a.bottom) / 2);
        ctx.rotate(-Math.PI / 2);
        drawSubText(ctx, ['Radius [R', 'J', ']'], 28);
        ctx.restore();
        // age label
        ctx.font = '29px ' + FONT;
        ctx.textAlign = 'center';
        ctx.textBaseline = 'alphabetic';
        ctx.fillText('T=3 Myr', 590, 585);
        ctx.restore();
    }
};

const ring = { pointRadius: 3.2, borderWidth: 2, backgroundColor: 'rgba(0,0,0,0)' };

new Chart(document.getElementById('mrChart'), {
    type: 'scatter',
    data: {
        datasets: [
            { data: toXY(blackPts), pointStyle: 'cross', pointRadius: 1.6, borderWidth: 1, borderColor: '#000' },
            Object.assign({ data: toXY(redPts), borderColor: '#ff0000' }, ring),
            Object.assign({ data: toXY(orangePts), borderColor: '#ffa020' }, ring),
            Object.assign({ data: toXY(greenPts), borderColor: '#00ee00' }, ring),
            Object.assign({ data: toXY(bluePts), borderColor: '#0000ff' }, ring),
            { data: toXY(trackPts), showLine: true, pointRadius: 0, borderColor: '#8a4f5e', borderWidth: 1.3, tension: 0 },
            { data: toXY(limitPts), showLine: true, pointRadius: 0, borderColor: '#c4a5ae', borderWidth: 1.6, tension: 0 }
        ]
    },
    options: {
        responsive: false,
        animation: false,
        layout: { padding: { left: 0, right: 27, top: 9, bottom: 0 } },
        plugins: { legend: { display: false }, tooltip: { enabled: false } },
        scales: {
            x: {
                type: 'logarithmic', min: 0.02, max: 100,
                grid: { display: false, drawTicks: false },
                border: { display: false },
                afterBuildTicks: s => { s.ticks = xTicks.map(v => ({ value: v })); },
                afterFit: s => { s.height = 90; s.paddingLeft = 0; s.paddingRight = 0; },
                ticks: {
                    autoSkip: false, maxRotation: 0, padding: 14, color: '#000',
                    font: { family: FONT, size: 28 },
                    callback: v => xLabels.includes(v) ? String(v) : ''
                }
            },
            y: {
                type: 'logarithmic', min: 0.1, max: 100,
                grid: { display: false, drawTicks: false },
                border: { display: false },
                afterBuildTicks: s => { s.ticks = yTicks.map(v => ({ value: v })); },
                afterFit: s => { s.width = 96; s.paddingTop = 0; s.paddingBottom = 0; },
                ticks: {
                    autoSkip: false, padding: 14, color: '#000',
                    font: { family: FONT, size: 28 },
                    callback: v => yLabels.includes(v) ? String(v) : ''
                }
            }
        }
    },
    plugins: [framePlugin]
});
</script>
</body>
</html>
